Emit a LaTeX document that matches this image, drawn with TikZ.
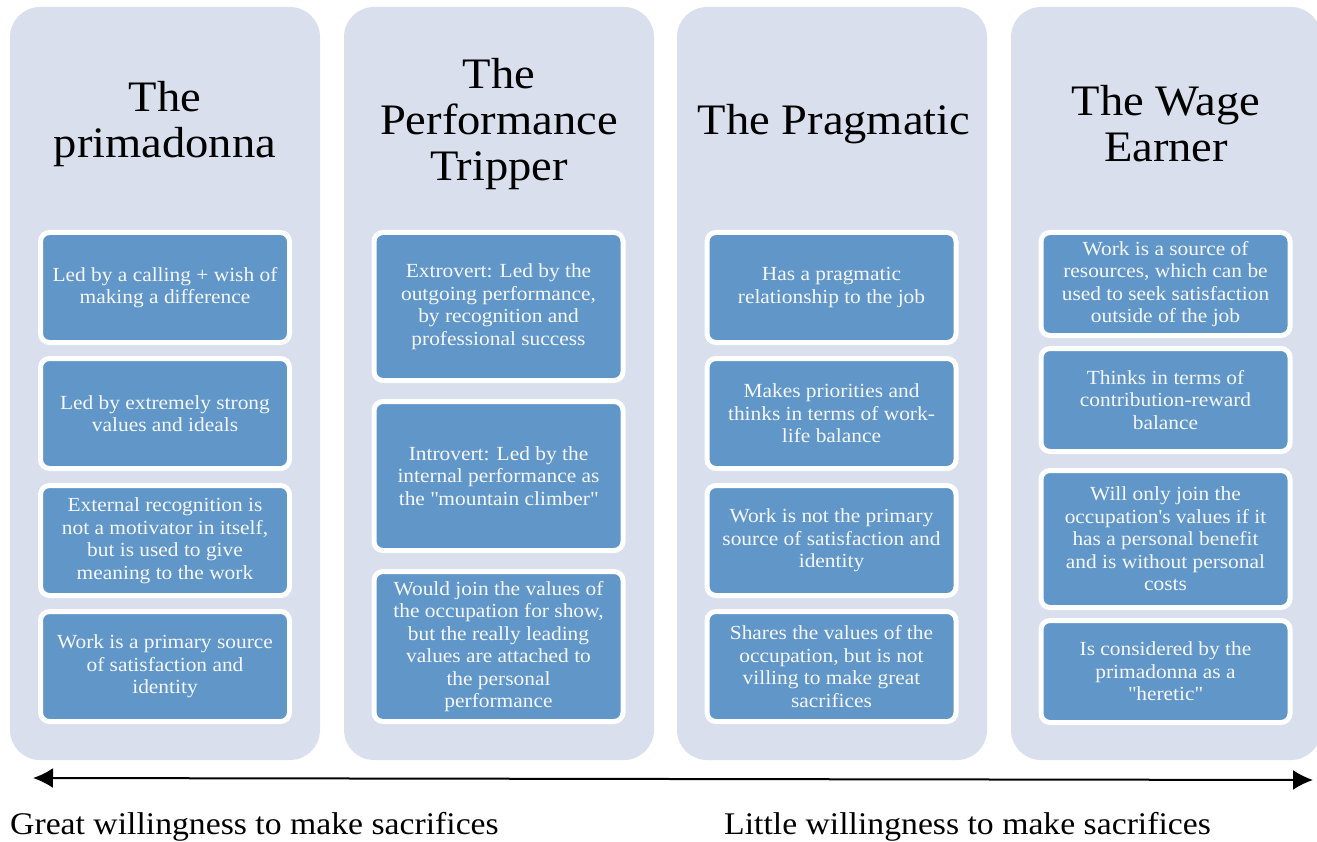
\documentclass[tikz,border=0pt]{standalone}
\usepackage{fontspec}
\setmainfont{Liberation Serif}[FakeStretch=1.07]
\usetikzlibrary{arrows.meta}
\definecolor{colbg}{RGB}{217,223,236}
\definecolor{boxblue}{RGB}{97,150,200}
\definecolor{boxtext}{RGB}{246,248,252}
\tikzset{
  column/.style={fill=colbg, draw=none, rounded corners=30pt, inner sep=0pt,
    minimum width=310pt, minimum height=753pt},
  title/.style={align=center, font=\fontsize{43.5}{46}\selectfont, text=black, inner sep=0pt},
  card/.style={fill=boxblue, draw=white, line width=5pt, rounded corners=9pt,
    align=center, text=boxtext, inner sep=0pt, minimum width=249pt,
    font=\fontsize{20}{22.5}\selectfont},
  scale label/.style={font=\fontsize{31.5}{34}\selectfont, inner sep=0pt, anchor=base west}
}
\begin{document}
\begin{tikzpicture}[x=1pt,y=-1pt]
\useasboundingbox (0,0) rectangle (1317,842);
% columns
\node[column] (c1) at (165,383.5) {};
\node[column] (c2) at (499,383.5) {};
\node[column] (c3) at (832,383.5) {};
\node[column] (c4) at (1166,383.5) {};
% titles
\node[title] (t1) at (165,124) {The\\primadonna};
\node[title] (t2) at (499,124) {The\\Performance\\Tripper};
\node[title] (t3) at (834,124) {The Pragmatic};
\node[title] (t4) at (1166,124) {The Wage\\Earner};
% column 1
\node[card, minimum height=110pt] (a1) at (165,287.5) {Led by a calling + wish of\\making a difference};
\node[card, minimum height=110pt] (a2) at (165,413.5) {Led by extremely strong\\values and ideals};
\node[card, minimum height=110pt] (a3) at (165,540.5) {External recognition is\\not a motivator in itself,\\but is used to give\\meaning to the work};
\node[card, minimum height=110pt] (a4) at (165,666.5) {Work is a primary source\\of satisfaction and\\identity};
% column 2
\node[card, minimum height=148pt] (b1) at (498.5,306.5) {Extrovert: Led by the\\outgoing performance,\\by recognition and\\professional success};
\node[card, minimum height=149pt] (b2) at (498.5,476) {Introvert: Led by the\\internal performance as\\the \textquotedbl mountain climber\textquotedbl};
\node[card, minimum height=150pt] (b3) at (498.5,646.5) {Would join the values of\\the occupation for show,\\but the really leading\\values are attached to\\the personal\\performance};
% column 3
\node[card, minimum height=110pt] (d1) at (831.5,287.5) {Has a pragmatic\\relationship to the job};
\node[card, minimum height=110pt] (d2) at (831.5,413.5) {Makes priorities and\\thinks in terms of work-\\life balance};
\node[card, minimum height=110pt] (d3) at (831.5,540.5) {Work is not the primary\\source of satisfaction and\\identity};
\node[card, minimum height=110pt] (d4) at (831.5,666.5) {Shares the values of the\\occupation, but is not\\villing to make great\\sacrifices};
% column 4
\node[card, minimum height=103pt] (e1) at (1165.5,284) {Work is a source of\\resources, which can be\\used to seek satisfaction\\outside of the job};
\node[card, minimum height=103pt] (e2) at (1165.5,400) {Thinks in terms of\\contribution-reward\\balance};
\node[card, minimum height=137pt] (e3) at (1165.5,539) {Will only join the\\occupation\textquotesingle s values if it\\has a personal benefit\\and is without personal\\costs};
\node[card, minimum height=102pt] (e4) at (1165.5,671.5) {Is considered by the\\primadonna as a\\\textquotedbl heretic\textquotedbl};
% scale arrow
\coordinate (left) at (33,778);
\coordinate (right) at (1313,780);
\draw[line width=2pt, {Latex[length=20pt,width=20pt]}-{Latex[length=20pt,width=20pt]}] (left) -- (right);
\node[scale label] (g) at (10,834) {Great willingness to make sacrifices};
\node[scale label] (l) at (724,834) {Little willingness to make sacrifices};
\end{tikzpicture}
\end{document}
